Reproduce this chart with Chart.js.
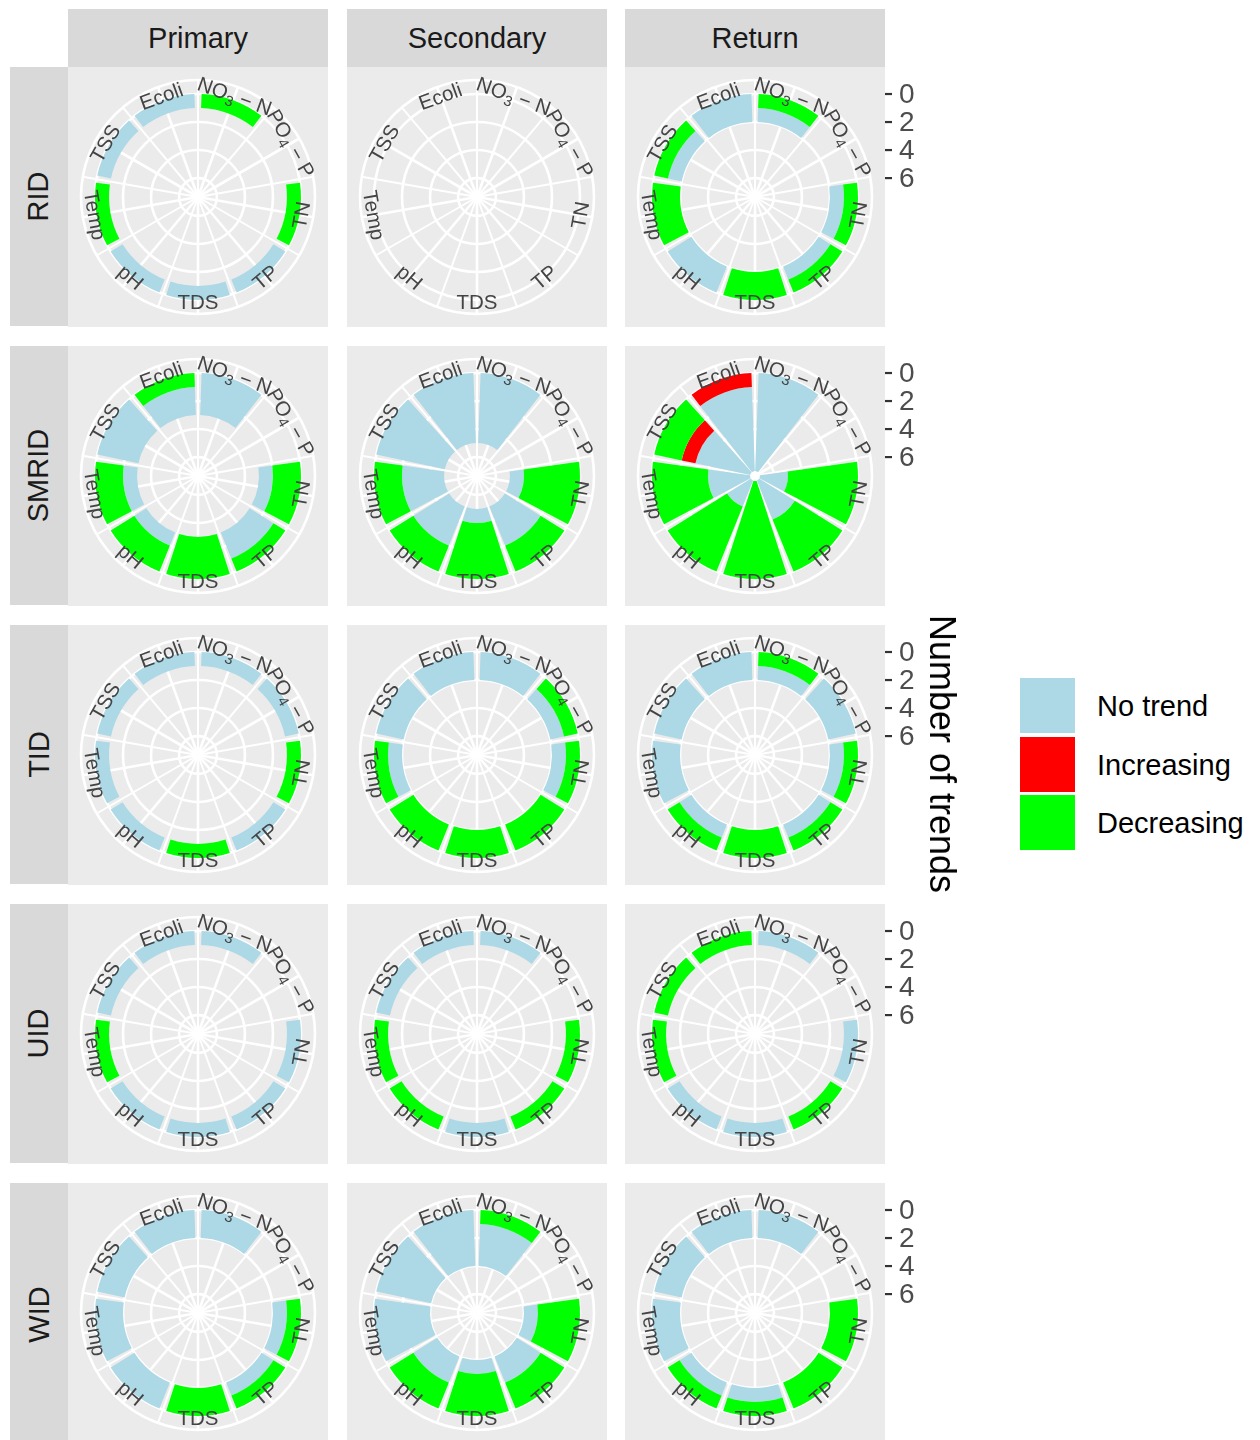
<!DOCTYPE html>
<html>
<head>
<meta charset="utf-8">
<script src="https://cdn.jsdelivr.net/npm/chart.js@4.4.1/dist/chart.umd.min.js"></script>
<style>
  html, body { margin: 0; padding: 0; }
  body { width: 1260px; height: 1440px; overflow: hidden; background: #ffffff; position: relative;
         font-family: "Liberation Sans", Arial, sans-serif; }
  .strip { position: absolute; background: #D9D9D9; color: #1A1A1A; font-size: 29px;
           display: flex; align-items: center; justify-content: center; }
  .vtxt { transform: rotate(-90deg); white-space: nowrap; }
  canvas { position: absolute; }
  #ytitle { position: absolute; left: 942px; top: 754px; transform: translate(-50%, -50%) rotate(90deg);
            font-size: 36px; color: #000; white-space: nowrap; }
  .key { position: absolute; left: 1020px; width: 55px; height: 55px; }
  .klab { position: absolute; left: 1097px; font-size: 29px; color: #000; line-height: 1; white-space: nowrap;
          transform: translateY(-50%); }
</style>
</head>
<body>
<div id="root"></div>
<div id="ytitle">Number of trends</div>
<script>
// ---------------- data ----------------
const categories = ['NO3-N', 'PO4-P', 'TN', 'TP', 'TDS', 'pH', 'Temp', 'TSS', 'Ecoli'];
const sites = ['RID', 'SMRID', 'TID', 'UID', 'WID'];
const sources = ['Primary', 'Secondary', 'Return'];
const trendTypes = ['No trend', 'Increasing', 'Decreasing'];
const trendColors = ['#ADD8E6', '#FF0000', '#00FF00'];
const rTicks = [0, 2, 4, 6];

// counts per category (order of `categories`)
const RID_Primary_dec    = [1,0,1,0,0,0,1,0,0];
const RID_Primary_inc    = [0,0,0,0,0,0,0,0,0];
const RID_Primary_none   = [0,0,0,1,1,1,0,1,1];
const RID_Secondary_dec  = [0,0,0,0,0,0,0,0,0];
const RID_Secondary_inc  = [0,0,0,0,0,0,0,0,0];
const RID_Secondary_none = [0,0,0,0,0,0,0,0,0];
const RID_Return_dec     = [1,0,1,1,2,0,2,1,0];
const RID_Return_inc     = [0,0,0,0,0,0,0,0,0];
const RID_Return_none    = [1,0,1,1,0,2,0,1,2];

const SMRID_Primary_dec    = [0,0,2,1,3,2,2,0,1];
const SMRID_Primary_inc    = [0,0,0,0,0,0,0,0,0];
const SMRID_Primary_none   = [3,0,1,2,0,1,1,3,2];
const SMRID_Secondary_dec  = [0,0,4,2,4,2,2,0,0];
const SMRID_Secondary_inc  = [0,0,0,0,0,0,0,0,0];
const SMRID_Secondary_none = [5,0,1,3,1,3,3,5,5];
const SMRID_Return_dec     = [0,0,5,4,7,5,4,2,0];
const SMRID_Return_inc     = [0,0,0,0,0,0,0,1,1];
const SMRID_Return_none    = [7,0,2,3,0,2,3,4,6];

const TID_Primary_dec    = [0,0,1,0,1,0,0,0,0];
const TID_Primary_inc    = [0,0,0,0,0,0,0,0,0];
const TID_Primary_none   = [1,1,0,1,0,1,1,1,1];
const TID_Secondary_dec  = [0,1,1,2,2,2,1,0,0];
const TID_Secondary_inc  = [0,0,0,0,0,0,0,0,0];
const TID_Secondary_none = [2,1,1,0,0,0,1,2,2];
const TID_Return_dec     = [1,0,1,1,2,1,0,0,0];
const TID_Return_inc     = [0,0,0,0,0,0,0,0,0];
const TID_Return_none    = [1,2,1,1,0,1,2,2,2];

const UID_Primary_dec    = [0,0,0,0,0,0,1,0,0];
const UID_Primary_inc    = [0,0,0,0,0,0,0,0,0];
const UID_Primary_none   = [1,0,1,1,1,1,0,1,1];
const UID_Secondary_dec  = [0,0,1,1,0,1,1,0,0];
const UID_Secondary_inc  = [0,0,0,0,0,0,0,0,0];
const UID_Secondary_none = [1,0,0,0,1,0,0,1,1];
const UID_Return_dec     = [0,0,0,1,0,0,1,1,1];
const UID_Return_inc     = [0,0,0,0,0,0,0,0,0];
const UID_Return_none    = [1,0,1,0,1,1,0,0,0];

const WID_Primary_dec    = [0,0,1,1,2,0,0,0,0];
const WID_Primary_inc    = [0,0,0,0,0,0,0,0,0];
const WID_Primary_none   = [2,0,1,1,0,2,2,2,2];
const WID_Secondary_dec  = [1,0,3,2,3,2,0,0,0];
const WID_Secondary_inc  = [0,0,0,0,0,0,0,0,0];
const WID_Secondary_none = [3,0,1,2,1,2,4,4,4];
const WID_Return_dec     = [0,0,2,2,1,1,0,0,0];
const WID_Return_inc     = [0,0,0,0,0,0,0,0,0];
const WID_Return_none    = [2,0,0,0,1,1,2,2,2];

// radial scale limits (reversed: 0 trends at the outer ring)
const rMin = -1.0;
const rMax = 7.35;

// ------------- lookup built from the arrays -------------
const panelData = {
  RID_Primary: [RID_Primary_none, RID_Primary_inc, RID_Primary_dec],
  RID_Secondary: [RID_Secondary_none, RID_Secondary_inc, RID_Secondary_dec],
  RID_Return: [RID_Return_none, RID_Return_inc, RID_Return_dec],
  SMRID_Primary: [SMRID_Primary_none, SMRID_Primary_inc, SMRID_Primary_dec],
  SMRID_Secondary: [SMRID_Secondary_none, SMRID_Secondary_inc, SMRID_Secondary_dec],
  SMRID_Return: [SMRID_Return_none, SMRID_Return_inc, SMRID_Return_dec],
  TID_Primary: [TID_Primary_none, TID_Primary_inc, TID_Primary_dec],
  TID_Secondary: [TID_Secondary_none, TID_Secondary_inc, TID_Secondary_dec],
  TID_Return: [TID_Return_none, TID_Return_inc, TID_Return_dec],
  UID_Primary: [UID_Primary_none, UID_Primary_inc, UID_Primary_dec],
  UID_Secondary: [UID_Secondary_none, UID_Secondary_inc, UID_Secondary_dec],
  UID_Return: [UID_Return_none, UID_Return_inc, UID_Return_dec],
  WID_Primary: [WID_Primary_none, WID_Primary_inc, WID_Primary_dec],
  WID_Secondary: [WID_Secondary_none, WID_Secondary_inc, WID_Secondary_dec],
  WID_Return: [WID_Return_none, WID_Return_inc, WID_Return_dec]
};

// ------------- layout -------------
const colX = [68, 347, 625];
const rowY = [67, 346, 625, 904, 1183];
const PW = 260, PH = 260, PAD = 13, AXW = 60;

const root = document.getElementById('root');
function addDiv(cls, style, html) {
  const d = document.createElement('div');
  d.className = cls; Object.assign(d.style, style); d.innerHTML = html || '';
  root.appendChild(d); return d;
}
sources.forEach((s, j) => addDiv('strip', {left: colX[j] + 'px', top: '9px', width: PW + 'px', height: '58px'}, s));
sites.forEach((s, i) => addDiv('strip', {left: '10px', top: rowY[i] + 'px', width: '58px', height: (i === 4 ? 262 : 259) + 'px'},
  '<span class="vtxt">' + s + '</span>'));

// legend
const keyTops = [678, 737, 795];
trendTypes.forEach((t, k) => {
  addDiv('key', {top: keyTops[k] + 'px', background: trendColors[k]});
  addDiv('klab', {top: (keyTops[k] + 28) + 'px'}, t);
});

// ------------- custom controller: stacked ring bars on a polar (radialLinear) scale -------------
class RingBarController extends Chart.PolarAreaController {
  updateElements(arcs, start, count, mode) {
    super.updateElements(arcs, start, count, mode);
    const scale = this._cachedMeta.rScale;
    const ds = this.getDataset();
    const w = ds.barWidth == null ? 0.9 : ds.barWidth;
    for (let i = start; i < start + count; i++) {
      const arc = arcs[i];
      const v = this.getParsed(i).r;
      const b = ds.base[i];
      const r1 = scale.getDistanceFromCenterForValue(b);
      const r2 = scale.getDistanceFromCenterForValue(b + v);
      const sa = arc.startAngle, ea = arc.endAngle;
      const shrink = (ea - sa) * (1 - w) / 2;
      arc.startAngle = sa + shrink;
      arc.endAngle = ea - shrink;
      arc.outerRadius = Math.max(r1, r2);
      arc.innerRadius = Math.min(r1, r2);
    }
  }
}
RingBarController.id = 'ringBar';
RingBarController.defaults = Object.assign({}, Chart.PolarAreaController.defaults);
RingBarController.overrides = Chart.PolarAreaController.overrides;
Chart.register(RingBarController);

// ------------- label helpers -------------
const labelParts = {
  'NO3-N': [['NO', 0], ['3', 1], [' \u2212 N', 0]],
  'PO4-P': [['PO', 0], ['4', 1], [' \u2212 P', 0]]
};
const FONT = '"Liberation Sans", Arial, sans-serif';
function drawRich(c, text, x, y, rot, size) {
  const parts = labelParts[text] || [[text, 0]];
  c.save();
  c.translate(x, y); c.rotate(rot);
  c.textAlign = 'left'; c.textBaseline = 'middle';
  let w = 0;
  parts.forEach(([t, s]) => { c.font = (s ? size * 0.72 : size) + 'px ' + FONT; w += c.measureText(t).width; });
  let xx = -w / 2;
  parts.forEach(([t, s]) => {
    c.font = (s ? size * 0.72 : size) + 'px ' + FONT;
    c.fillText(t, xx, s ? size * 0.3 : 0);
    xx += c.measureText(t).width;
  });
  c.restore();
}

const panelPlugin = {
  id: 'panelDeco',
  beforeDraw(chart, args, o) {
    const c = chart.ctx;
    c.save(); c.fillStyle = '#EBEBEB'; c.fillRect(0, 0, PW, PH); c.restore();
  },
  beforeDatasetsDraw(chart) {
    const sc = chart.scales.r, c = chart.ctx;
    const n = chart.data.labels.length;
    const outer = sc.getDistanceFromCenterForValue(sc.min);
    const a0 = sc.getIndexAngle(0) - Math.PI / 2;
    c.save();
    c.strokeStyle = '#FFFFFF';
    for (let k = 0; k < 2 * n; k++) {
      const a = a0 + k * Math.PI / n;
      c.lineWidth = (k % 2) ? 2.6 : 2.0;
      c.beginPath();
      c.moveTo(sc.xCenter, sc.yCenter);
      c.lineTo(sc.xCenter + outer * Math.cos(a), sc.yCenter + outer * Math.sin(a));
      c.stroke();
    }
    c.lineWidth = 2.6;
    [sc.min].concat(rTicks).forEach(v => {
      const r = sc.getDistanceFromCenterForValue(v);
      c.beginPath(); c.arc(sc.xCenter, sc.yCenter, r, 0, 2 * Math.PI); c.stroke();
    });
    c.restore();
  },
  afterDatasetsDraw(chart, args, o) {
    const sc = chart.scales.r, c = chart.ctx;
    const n = chart.data.labels.length;
    const rl = sc.getDistanceFromCenterForValue(sc.min) - 11;
    c.save();
    c.fillStyle = '#444444';
    chart.data.labels.forEach((lab, i) => {
      const th = sc.getIndexAngle(i) + Math.PI / n;           // clockwise from 12 o'clock
      const deg = th * 180 / Math.PI % 360;
      const rot = (deg > 90 && deg < 270) ? th - Math.PI : th;
      const x = sc.xCenter + rl * Math.sin(th);
      const y = sc.yCenter - rl * Math.cos(th);
      drawRich(c, lab, x, y, rot, 20.5);
    });
    if (o.axis) {
      c.strokeStyle = '#333333'; c.lineWidth = 2.2;
      c.fillStyle = '#4D4D4D';
      c.font = '28px ' + FONT; c.textAlign = 'left'; c.textBaseline = 'middle';
      rTicks.forEach(v => {
        const y = sc.yCenter - sc.getDistanceFromCenterForValue(v);
        c.beginPath(); c.moveTo(PW, y); c.lineTo(PW + 7, y); c.stroke();
        c.fillText(String(v), PW + 14, y + 1);
      });
    }
    c.restore();
  }
};

// ------------- build charts -------------
sites.forEach((site, i) => {
  sources.forEach((src, j) => {
    const [none, inc, dec] = panelData[site + '_' + src];
    const baseInc = dec.slice();
    const baseNone = dec.map((d, k) => d + inc[k]);
    const cv = document.createElement('canvas');
    const isAxis = j === 2;
    cv.width = PW + (isAxis ? AXW : 0); cv.height = PH;
    cv.style.left = colX[j] + 'px'; cv.style.top = rowY[i] + 'px';
    root.appendChild(cv);
    new Chart(cv, {
      type: 'ringBar',
      data: {
        labels: categories,
        datasets: [
          {label: trendTypes[2], data: dec, base: new Array(dec.length).fill(0), backgroundColor: trendColors[2], borderWidth: 0},
          {label: trendTypes[1], data: inc, base: baseInc, backgroundColor: trendColors[1], borderWidth: 0},
          {label: trendTypes[0], data: none, base: baseNone, backgroundColor: trendColors[0], borderWidth: 0}
        ]
      },
      options: {
        responsive: false,
        animation: false,
        events: [],
        layout: {padding: {left: PAD, top: PAD, bottom: PAD, right: PAD + (isAxis ? AXW : 0)}},
        plugins: {legend: {display: false}, tooltip: {enabled: false}, panelDeco: {axis: isAxis}},
        scales: {
          r: {
            type: 'radialLinear', min: rMin, max: rMax, reverse: true, startAngle: 0,
            ticks: {display: false}, grid: {display: false}, angleLines: {display: false},
            pointLabels: {display: false}
          }
        }
      },
      plugins: [panelPlugin]
    });
  });
});
</script>
</body>
</html>
